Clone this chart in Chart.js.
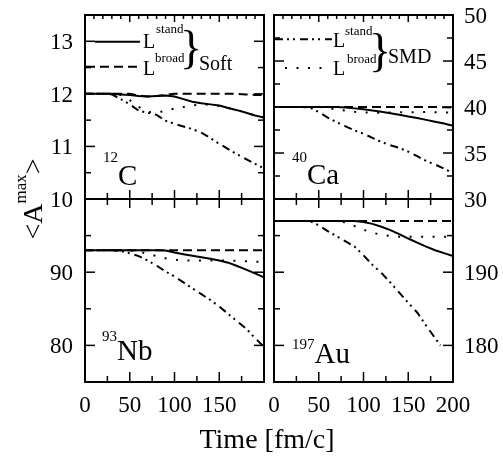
<!DOCTYPE html>
<html><head><meta charset="utf-8">
<script src="https://cdn.jsdelivr.net/npm/chart.js@4"></script>
<style>
html,body{margin:0;padding:0;background:#fff;}
#wrap{position:relative;width:503px;height:458px;background:#fff;}
canvas{position:absolute;left:0;top:0;}
</style></head><body>
<div id="wrap">
<canvas id="c0" width="503" height="458"></canvas>
<canvas id="c1" width="503" height="458"></canvas>
<canvas id="c2" width="503" height="458"></canvas>
<canvas id="c3" width="503" height="458"></canvas>
</div>
<script>
// ---------------- data ----------------
const time = [0,10,20,30,40,50,60,70,80,90,100,110,120,130,140,150,160,170,180,190,200];

const c12SoftStand = [12.00,12.00,12.00,12.00,11.99,11.98,11.96,11.95,11.96,11.97,11.95,11.90,11.85,11.82,11.80,11.78,11.73,11.69,11.64,11.59,11.55];
const c12SoftBroad = [12.00,12.00,12.00,12.00,12.00,12.00,11.97,11.95,11.96,11.98,12.00,12.00,12.00,12.00,12.00,12.00,12.00,12.00,11.99,11.98,11.98];
const c12SmdStand  = [12.00,12.00,12.00,11.99,11.90,11.80,11.68,11.64,11.60,11.49,11.43,11.38,11.33,11.26,11.16,11.05,10.95,10.85,10.76,10.67,10.58];
const c12SmdBroad  = [12.00,12.00,12.00,12.00,11.98,11.88,11.75,11.66,11.64,11.68,11.72,11.75,11.78,11.80,11.79,11.77,11.73,11.69,11.64,11.59,11.55];

const ca40SoftStand = [40,40,40,40,40,40,40,40,39.95,39.85,39.75,39.62,39.48,39.32,39.15,38.97,38.80,38.60,38.40,38.20,37.97];
const ca40SoftBroad = [40,40,40,40,40,40,40,40,40,40,40,40,40,40,40,40,40,40,40,39.97,39.95];
const ca40SmdStand  = [40,40,40,40,39.95,39.45,38.85,38.35,37.90,37.45,37.10,36.65,36.20,35.85,35.55,35.15,34.65,34.15,33.75,33.30,32.80];
const ca40SmdBroad  = [40,40,40,40,40,40,39.90,39.72,39.60,39.48,39.40,39.38,39.38,39.40,39.42,39.42,39.45,39.45,39.42,39.40,39.38];

const nb93SoftStand = [93,93,93,93,93,93,93,93,93,92.95,92.70,92.45,92.25,92.05,91.85,91.60,91.30,90.85,90.35,89.85,89.30];
const nb93SoftBroad = [93,93,93,93,93,93,93,93,93,93,93,93,93,93,93,93,93,93,93,93,93];
const nb93SmdStand  = [93,93,93,93,92.90,92.60,92.20,91.60,90.90,90.10,89.40,88.60,87.80,87.00,86.20,85.30,84.30,83.30,82.30,81.00,79.80];
const nb93SmdBroad  = [93,93,93,93,93,93,92.80,92.50,92.20,91.90,91.70,91.60,91.60,91.60,91.60,91.60,91.60,91.55,91.50,91.45,91.40];

const au197SoftStand = [197,197,197,197,197,197,197,197,197,197,196.85,196.60,196.20,195.75,195.20,194.60,194.05,193.50,193.00,192.60,192.20];
const au197SoftBroad = [197,197,197,197,197,197,197,197,197,197,197,197,197,197,197,197,197,197,197,197,197];
const au197SmdStandTime = [0,10,20,30,40,50,60,70,80,90,100,110,120,130,140,150,160,170,180,186];
const au197SmdStand  = [197,197,197,197,197,196.40,195.60,194.90,194.20,193.50,192.30,191.00,189.90,188.60,187.20,185.80,184.50,182.70,181.00,180.00];
const au197SmdBroad  = [197,197,197,197,197,197,197,197,196.80,196.30,195.80,195.40,195.10,194.95,194.85,194.85,194.85,194.85,194.85,194.85,194.85];

// ticks
const xMajor = [0,50,100,150,200];
const xMinor = [25,75,125,175];
const xTopMinor = [10,20,30,40,60,70,80,90,110,120,130,140,160,170,180,190];
const xLabelsLeft = [0,50,100,150];
const xLabelsRight = [0,50,100,150,200];

const yC12 = {min:10, max:13.5, major:[10,11,12,13], minor:[10.5,11.5,12.5,13.5], labels:[10,11,12,13]};
const yCa40 = {min:30, max:50, major:[30,35,40,45,50], minor:[32.5,37.5,42.5,47.5], labels:[30,35,40,45,50]};
const yNb93 = {min:75, max:100, major:[80,90,100], minor:[75,85,95], labels:[80,90]};
const yAu197 = {min:175, max:200, major:[180,190,200], minor:[175,185,195], labels:[180,190]};

// ---------------- styles ----------------
const W = 503, H = 458;
const FONT = '"Liberation Serif","Times New Roman",serif';
const DASH_SOLID = [];
const DASH_DASHED = [9,5];
const DASH_DDOT = [8,4,2,4,2,5];
const DASH_DOT = [2,9.5];

function seg(ctx,x1,y1,x2,y2){ctx.beginPath();ctx.moveTo(x1,y1);ctx.lineTo(x2,y2);ctx.stroke();}
function txt(ctx,s,x,y,size,align){ctx.font=size+'px '+FONT;ctx.textAlign=align||'left';ctx.textBaseline='alphabetic';ctx.fillText(s,x,y);}

function makePanel(id, rect, ycfg, series, cfg){
  const plugin = {
    id:'panel_'+id,
    afterDraw(chart){
      const ctx = chart.ctx, a = chart.chartArea, xs = chart.scales.x, ys = chart.scales.y;
      ctx.save();
      ctx.fillStyle='#000'; ctx.strokeStyle='#000'; ctx.setLineDash([]);
      ctx.lineWidth = 1.5;
      ycfg.minor.forEach(v=>{const p=ys.getPixelForValue(v); seg(ctx,a.left,p,a.left+6,p); seg(ctx,a.right,p,a.right-6,p);});
      ycfg.major.forEach(v=>{const p=ys.getPixelForValue(v); seg(ctx,a.left,p,a.left+10,p); seg(ctx,a.right,p,a.right-10,p);});
      if(cfg.top){
        xTopMinor.forEach(v=>{const p=xs.getPixelForValue(v); seg(ctx,p,a.top,p,a.top+4);});
        xMajor.forEach(v=>{const p=xs.getPixelForValue(v); seg(ctx,p,a.top,p,a.top+7);});
        xMinor.forEach(v=>{const p=xs.getPixelForValue(v); seg(ctx,p,a.bottom-6,p,a.bottom+6);});
        xMajor.forEach(v=>{const p=xs.getPixelForValue(v); seg(ctx,p,a.bottom-9,p,a.bottom+9);});
      } else {
        xMinor.forEach(v=>{const p=xs.getPixelForValue(v); seg(ctx,p,a.bottom,p,a.bottom-6);});
        xMajor.forEach(v=>{const p=xs.getPixelForValue(v); seg(ctx,p,a.bottom,p,a.bottom-10);});
        (cfg.right?xLabelsRight:xLabelsLeft).forEach(v=>{
          txt(ctx,String(v),xs.getPixelForValue(v),412,23,'center');
        });
      }
      ctx.lineWidth = 2;
      ctx.strokeRect(a.left,a.top,a.right-a.left,a.bottom-a.top);
      ycfg.labels.forEach(v=>{
        const p = ys.getPixelForValue(v)+7.8;
        if(cfg.right) txt(ctx,String(v),a.right+11,p,23,'left');
        else txt(ctx,String(v),a.left-12,p,23,'right');
      });
      const e = cfg.elem;
      txt(ctx,e.mass,e.x,e.supY,15,'left');
      ctx.font='15px '+FONT;
      const mw = ctx.measureText(e.mass).width;
      txt(ctx,e.sym,e.x+mw,e.y,29,'left');
      if(cfg.legend) cfg.legend(ctx);
      if(cfg.titles) cfg.titles(ctx);
      ctx.restore();
    }
  };
  return new Chart(document.getElementById(id),{
    type:'line',
    data:{datasets:series.map(s=>({
      data:s.t.map((t,i)=>({x:t,y:s.v[i]})),
      borderColor:'#000', borderWidth:2, borderDash:s.dash, borderCapStyle:'butt', borderJoinStyle:'miter',
      pointRadius:0, tension:0, fill:false
    }))},
    options:{
      responsive:false, animation:false, events:[],
      layout:{padding:{left:rect.l, top:rect.t, right:W-rect.r, bottom:H-rect.b}},
      plugins:{legend:{display:false}, tooltip:{enabled:false}, title:{display:false}},
      scales:{
        x:{type:'linear', min:0, max:200, display:false},
        y:{type:'linear', min:ycfg.min, max:ycfg.max, display:false}
      }
    },
    plugins:[plugin]
  });
}

function legendLine(ctx,x1,x2,y,dash){
  ctx.save(); ctx.lineWidth=2; ctx.setLineDash(dash); ctx.lineCap='butt';
  seg(ctx,x1,y,x2,y); ctx.restore();
}

const L = 85, R = 264, L2 = 274, R2 = 453, T = 15, M = 199, B = 382;

makePanel('c0',{l:L,r:R,t:T,b:M},yC12,[
  {t:time,v:c12SoftBroad,dash:DASH_DASHED},
  {t:time,v:c12SmdBroad,dash:DASH_DOT},
  {t:time,v:c12SmdStand,dash:DASH_DDOT},
  {t:time,v:c12SoftStand,dash:DASH_SOLID}
],{top:true,right:false,elem:{mass:'12',sym:'C',x:103,supY:162,y:185},
  legend(ctx){
    legendLine(ctx,95,140,41.7,DASH_SOLID);
    legendLine(ctx,86,140,66.7,DASH_DASHED);
    txt(ctx,'L',143,48,20); txt(ctx,'stand',156,33,13);
    txt(ctx,'L',143,75,20); txt(ctx,'broad',155,62,13);
    txt(ctx,'}',180,63,46);
    txt(ctx,'Soft',199,70,20);
  }});

makePanel('c1',{l:L2,r:R2,t:T,b:M},yCa40,[
  {t:time,v:ca40SoftBroad,dash:DASH_DASHED},
  {t:time,v:ca40SmdBroad,dash:DASH_DOT},
  {t:time,v:ca40SmdStand,dash:DASH_DDOT},
  {t:time,v:ca40SoftStand,dash:DASH_SOLID}
],{top:true,right:true,elem:{mass:'40',sym:'Ca',x:292,supY:162,y:184},
  legend(ctx){
    legendLine(ctx,275,332,39.3,DASH_DDOT);
    legendLine(ctx,285,324,68,DASH_DOT);
    txt(ctx,'L',333,47,20); txt(ctx,'stand',345,35,13);
    txt(ctx,'L',333,75,20); txt(ctx,'broad',347,63,13);
    txt(ctx,'}',369,66,46);
    txt(ctx,'SMD',388,63,20);
  }});

makePanel('c2',{l:L,r:R,t:M,b:B},yNb93,[
  {t:time,v:nb93SoftBroad,dash:DASH_DASHED},
  {t:time,v:nb93SmdBroad,dash:DASH_DOT},
  {t:time,v:nb93SmdStand,dash:DASH_DDOT},
  {t:time,v:nb93SoftStand,dash:DASH_SOLID}
],{top:false,right:false,elem:{mass:'93',sym:'Nb',x:102,supY:341,y:360}});

makePanel('c3',{l:L2,r:R2,t:M,b:B},yAu197,[
  {t:time,v:au197SoftBroad,dash:DASH_DASHED},
  {t:time,v:au197SmdBroad,dash:DASH_DOT},
  {t:au197SmdStandTime,v:au197SmdStand,dash:DASH_DDOT},
  {t:time,v:au197SoftStand,dash:DASH_SOLID}
],{top:false,right:true,elem:{mass:'197',sym:'Au',x:292,supY:349,y:363},
  titles(ctx){
    txt(ctx,'Time [fm/c]',267,448,28,'center');
    ctx.save();
    ctx.translate(42,199); ctx.rotate(-Math.PI/2);
    ctx.font='28px '+FONT; const w1=ctx.measureText('<A').width; const w3=ctx.measureText('>').width;
    ctx.font='17px '+FONT; const w2=ctx.measureText('max').width;
    const x0=-(w1+w2+w3)/2;
    txt(ctx,'<A',x0,0,28,'left');
    txt(ctx,'max',x0+w1,-16,17,'left');
    txt(ctx,'>',x0+w1+w2,0,28,'left');
    ctx.restore();
  }});
</script>
</body></html>
